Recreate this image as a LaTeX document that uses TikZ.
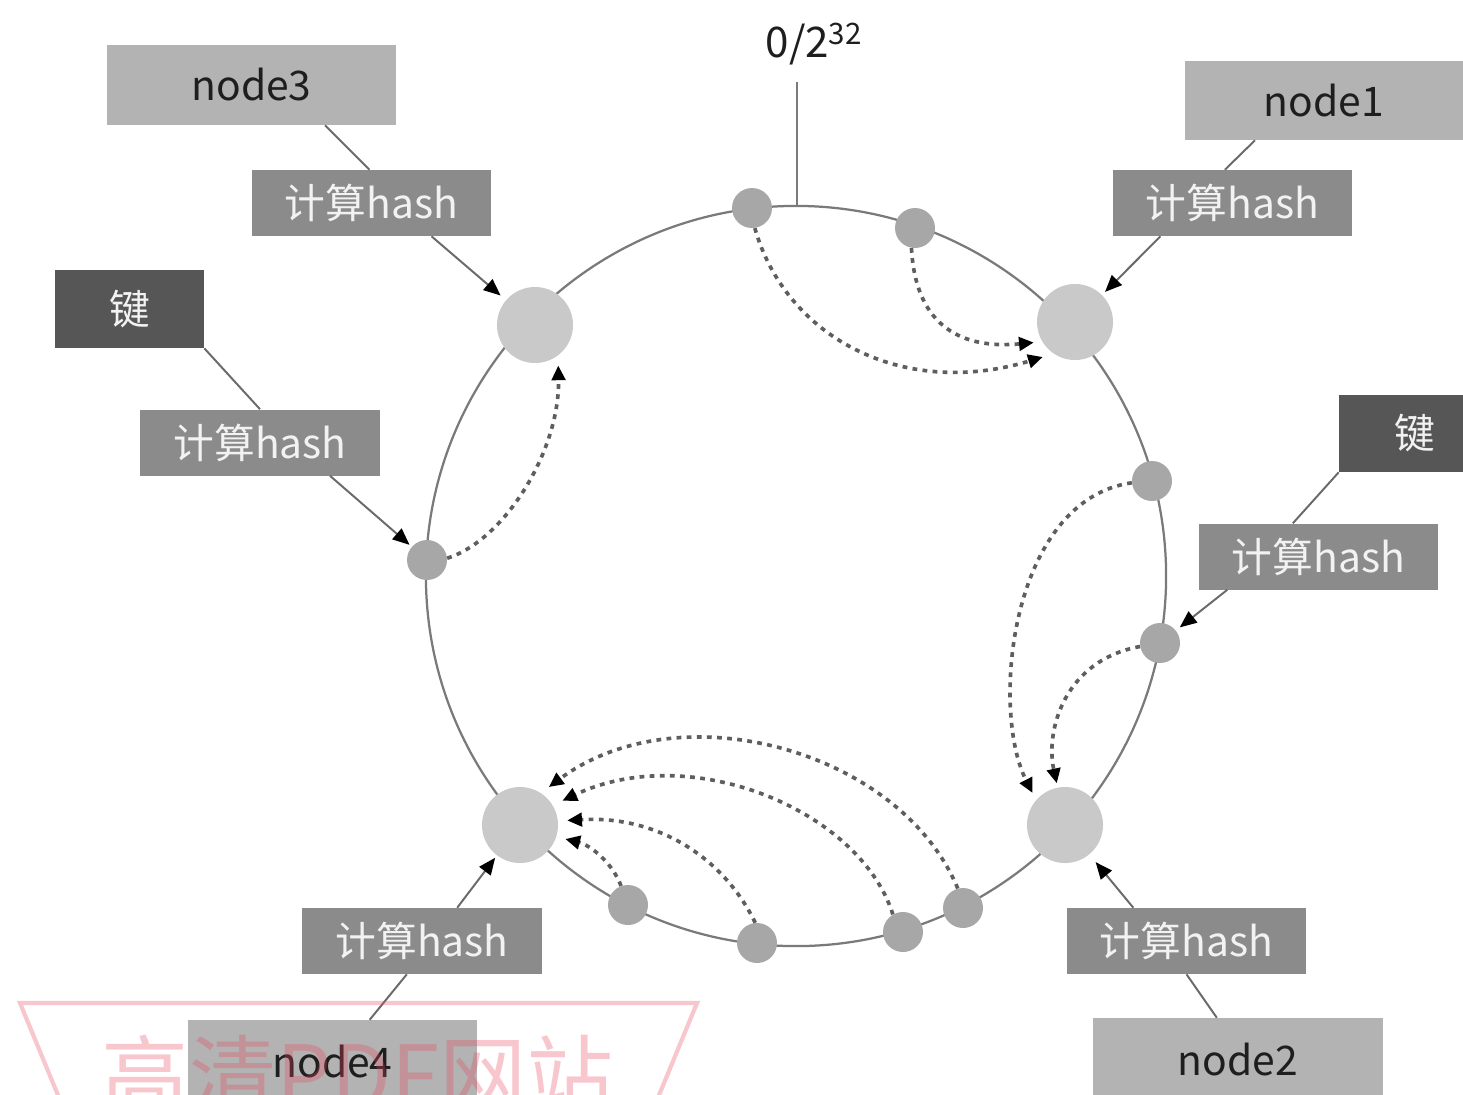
\documentclass[tikz,border=0pt]{standalone}
\usepackage{fontspec}
\setmainfont{Noto Sans CJK SC}
\usetikzlibrary{arrows.meta}
\definecolor{ringc}{HTML}{7A7A7A}
\definecolor{linkc}{HTML}{6A6A6A}
\definecolor{dashc}{HTML}{5E5E5E}
\definecolor{nodegray}{HTML}{B3B3B3}
\definecolor{hashgray}{HTML}{8B8B8B}
\definecolor{keygray}{HTML}{565656}
\definecolor{bigc}{HTML}{C9C9C9}
\definecolor{smallc}{HTML}{A7A7A7}
\definecolor{textdark}{HTML}{1E1E1E}
\definecolor{textlight}{HTML}{F2F2F2}
\definecolor{wmc}{RGB}{230,70,90}
\begin{document}
\begin{tikzpicture}[x=0.025cm,y=-0.025cm,
  lbl/.style={font=\fontsize{29}{34}\selectfont},
  nodebox/.style={rectangle, fill=nodegray, text=textdark, inner sep=0pt, lbl},
  hashbox/.style={rectangle, fill=hashgray, text=textlight, inner sep=0pt,
    minimum width=5.975cm, minimum height=1.65cm, lbl},
  keybox/.style={rectangle, fill=keygray, text=textlight, inner sep=0pt, lbl},
  bignode/.style={circle, fill=bigc, minimum size=1.9cm, inner sep=0pt},
  smallnode/.style={circle, fill=smallc, minimum size=1cm, inner sep=0pt},
  ringline/.style={draw=ringc, line width=1.6pt},
  link/.style={draw=linkc, line width=1.4pt},
  harrow/.style={link, -{Triangle[length=12pt,width=10pt,color=black]}},
  darrow/.style={draw=dashc, line width=2.6pt, dash pattern=on 3.4pt off 3.8pt,
    -{Triangle[length=10.5pt,width=9.5pt,color=black]}}
]
\useasboundingbox (0,0) rectangle (1463,1094);

% ring
\draw[ringline] (796,576) circle[radius=9.25cm];
\coordinate (ringtop) at (797,206);
\coordinate (marktop) at (797,82);
\draw[ringline] (ringtop) -- (marktop);
\node[font=\fontsize{30}{34}\selectfont, text=textdark] (zero) at (814,44) {0/2\textsuperscript{32}};

% ring nodes
\node[bignode] (b3) at (535,325) {};
\node[bignode] (b1) at (1075,322) {};
\node[bignode] (b2) at (1065,825) {};
\node[bignode] (b4) at (520,825) {};
\node[smallnode] (s1) at (752,208) {};
\node[smallnode] (s2) at (915,228) {};
\node[smallnode] (s3) at (427,560) {};
\node[smallnode] (s4) at (1152,481) {};
\node[smallnode] (s5) at (1160,643) {};
\node[smallnode] (s6) at (628,905) {};
\node[smallnode] (s7) at (757,943) {};
\node[smallnode] (s8) at (903,932) {};
\node[smallnode] (s9) at (963,908) {};

% boxes
\node[nodebox, minimum width=7.225cm, minimum height=2cm] (n3) at (251.5,85) {node3};
\node[hashbox] (h3) at (371.5,203) {计算hash};
\node[keybox, minimum width=3.725cm, minimum height=1.95cm] (k1) at (129.5,309) {键};
\node[hashbox] (hk1) at (260,442.5) {计算hash};
\node[nodebox, minimum width=6.95cm, minimum height=1.975cm] (n1) at (1324,100.5) {node1};
\node[hashbox] (h1) at (1232.5,203) {计算hash};
\node[keybox, minimum width=3.8cm, minimum height=1.925cm] (k2) at (1415,433.5) {键};
\node[hashbox] (hk2) at (1318.5,556.5) {计算hash};
\node[hashbox] (h2) at (1186.5,941) {计算hash};
\node[nodebox, minimum width=7.25cm, minimum height=2.1cm] (n2) at (1238,1060) {node2};
\node[hashbox] (h4) at (422,941) {计算hash};
\node[nodebox, minimum width=7.225cm, minimum height=2.1cm] (n4) at (332.5,1062) {node4};

% box connectors
\draw[link] ([xshift=1.84cm]n3.south) -- ([xshift=-0.05cm]h3.north);
\draw[harrow, shorten >=5pt] ([xshift=1.5cm]h3.south) -- (b3);
\draw[link] (k1.south east) -- (hk1.north);
\draw[harrow, shorten >=2pt] ([xshift=1.75cm]hk1.south) -- (s3);
\draw[link] ([xshift=-1.725cm]n1.south) -- ([xshift=-0.19cm]h1.north);
\draw[harrow, shorten >=3pt] ([xshift=-1.8cm]h1.south) -- (b1);
\draw[link] (k2.south west) -- ([xshift=-0.64cm]hk2.north);
\draw[harrow, shorten >=3.5pt] ([xshift=-2.28cm]hk2.south) -- (s5);
\draw[harrow, shorten >=7pt] ([xshift=-1.33cm]h2.north) -- (b2);
\draw[link] ([xshift=-0.53cm]n2.north) -- (h2.south);
\draw[harrow, shorten >=2pt] ([xshift=0.88cm]h4.north) -- (b4);
\draw[link] ([xshift=0.93cm]n4.north) -- ([xshift=-0.38cm]h4.south);

% dashed mapping arrows
\draw[darrow, shorten >=8pt] (s1.278) .. controls (785,335) and (900,400) .. (b1.236);
\draw[darrow, shorten >=6pt] (s2.260) .. controls (915,320) and (955,350) .. (b1.211);
\draw[darrow, shorten >=7pt] (s3.5) .. controls (505,540) and (560,450) .. (b3.307);
\draw[darrow, shorten >=5.5pt] (s4.185) .. controls (1010,500) and (990,710) .. (b2.139);
\draw[darrow, shorten >=3pt] (s5.190) .. controls (1065,660) and (1045,730) .. (b2.101);
\draw[darrow, shorten >=6.5pt] (s6.110) .. controls (612,862) and (590,845) .. (b4.342);
\draw[darrow, shorten >=6.5pt] (s7.95) .. controls (725,860) and (660,815) .. (b4.6);
\draw[darrow, shorten >=7.5pt] (s8.120) .. controls (860,810) and (690,740) .. (b4.31);
\draw[darrow, shorten >=7pt] (s9.105) .. controls (900,750) and (680,690) .. (b4.57);

% watermark
\begin{scope}[opacity=0.3]
\draw[draw=wmc, line width=3pt] (60,1100) -- (20,1003) -- (697,1003) -- (657,1100);
\node[text=wmc, font=\fontsize{62}{70}\selectfont, anchor=base] (wmtext) at (358,1108) {高清PDF网站};
\end{scope}
\end{tikzpicture}
\end{document}
